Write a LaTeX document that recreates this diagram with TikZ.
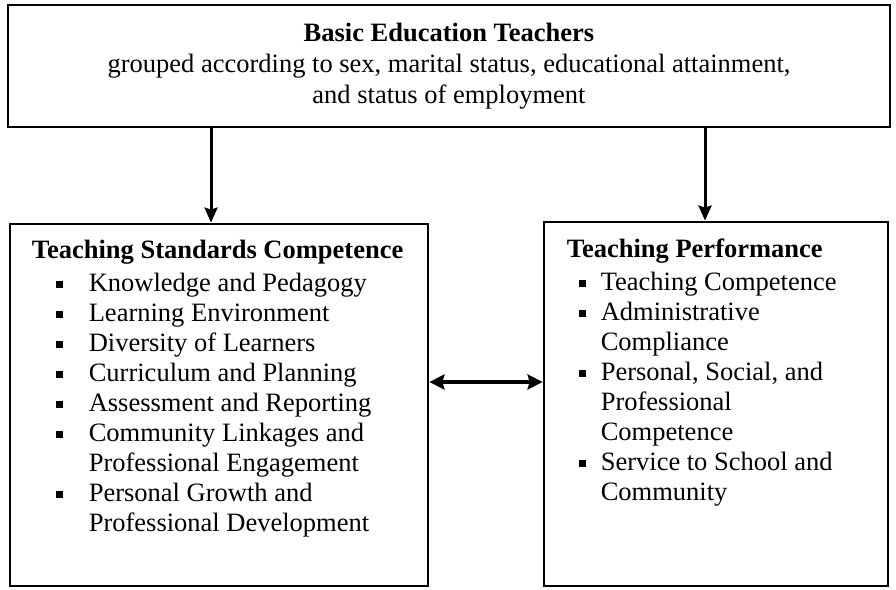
\documentclass[tikz,border=0pt]{standalone}
\usepackage{fontspec}
\setmainfont{Liberation Serif}
\usetikzlibrary{arrows.meta}
\newcommand{\bul}{\rule[3pt]{7pt}{7pt}}
\newcommand{\bitem}[3]{\hspace*{#1}\makebox[#2][l]{\bul}#3}

\begin{document}
\begin{tikzpicture}[x=1pt, y=1pt,
  box/.style={draw, line width=2.8pt, inner sep=0pt},
  txt/.style={anchor=north west, align=left, inner sep=0pt, font=\fontsize{26.5}{30}\selectfont},
  arr/.style={-{Stealth[length=15pt,width=13pt,inset=2pt]}, line width=3pt},
  dblarr/.style={{Stealth[length=15pt,width=15pt,inset=2pt]}-{Stealth[length=15pt,width=15pt,inset=2pt]}, line width=3.6pt}]
\useasboundingbox (0,0) rectangle (896,589);
\node[box, align=center, minimum width=882pt, minimum height=122pt, font=\fontsize{26.5}{31}\selectfont] (teachers) at (449,523)
  {\textbf{Basic Education Teachers}\\grouped according to sex, marital status, educational attainment,\\and status of employment};
\node[box, minimum width=418pt, minimum height=362pt] (standards) at (219,184) {};
\node[box, minimum width=344pt, minimum height=364pt] (performance) at (716,185) {};
% box contents
\node[txt] (standardstxt) at ([xshift=23pt,yshift=-17pt]standards.north west)
  {\textbf{Teaching Standards Competence}\\[3pt]
   \bitem{24pt}{33pt}{Knowledge and Pedagogy}\\
   \bitem{24pt}{33pt}{Learning Environment}\\
   \bitem{24pt}{33pt}{Diversity of Learners}\\
   \bitem{24pt}{33pt}{Curriculum and Planning}\\
   \bitem{24pt}{33pt}{Assessment and Reporting}\\
   \bitem{24pt}{33pt}{Community Linkages and}\\
   \hspace*{57pt}Professional Engagement\\
   \bitem{24pt}{33pt}{Personal Growth and}\\
   \hspace*{57pt}Professional Development};
\node[txt] (performancetxt) at ([xshift=24pt,yshift=-18pt]performance.north west)
  {\textbf{Teaching Performance}\\[3pt]
   \bitem{12pt}{22pt}{Teaching Competence}\\
   \bitem{12pt}{22pt}{Administrative}\\
   \hspace*{34pt}Compliance\\
   \bitem{12pt}{22pt}{Personal, Social, and}\\
   \hspace*{34pt}Professional\\
   \hspace*{34pt}Competence\\
   \bitem{12pt}{22pt}{Service to School and}\\
   \hspace*{34pt}Community};
% connectors
\draw[arr] ([xshift=-8pt]standards.north |- teachers.south) -- ([xshift=-8pt]standards.north);
\draw[arr] ([xshift=-11pt]performance.north |- teachers.south) -- ([xshift=-11pt]performance.north);
\draw[dblarr] ([yshift=23pt]standards.east) -- ([yshift=23pt]standards.east -| performance.west);
\end{tikzpicture}
\end{document}
